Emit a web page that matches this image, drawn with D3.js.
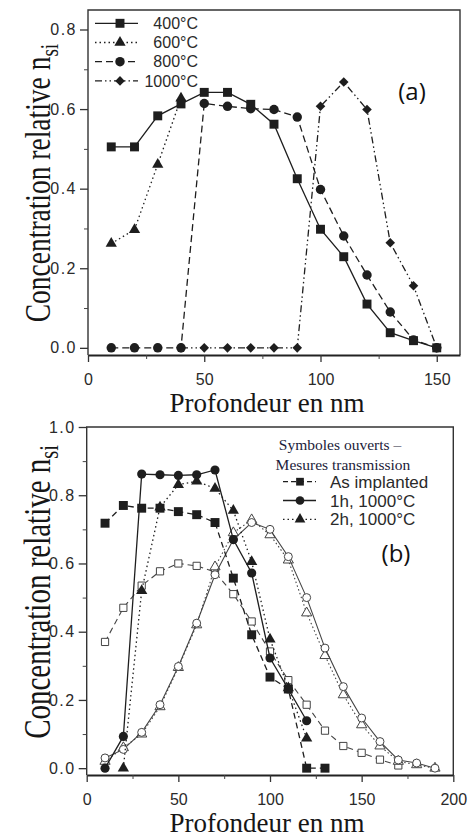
<!DOCTYPE html>
<html>
<head>
<meta charset="utf-8">
<script src="https://cdn.jsdelivr.net/npm/d3@7"></script>
<style>
  body { margin: 0; background: #fff; }
  svg { display: block; }
  .tick text { fill: #2a2a2a; }
</style>
</head>
<body>
<svg id="chart" width="471" height="839"></svg>
<script>
// panel (a) : depth in nm
const depthA = [10, 20, 30, 40, 50, 60, 70, 80, 90, 100, 110, 120, 130, 140, 150];
const n400 = [0.505, 0.505, 0.583, 0.613, 0.642, 0.642, 0.612, 0.562, 0.425, 0.298, 0.229, 0.11, 0.038, 0.018, 0.0];
const n600 = [0.262, 0.297, 0.461, 0.627, null, null, null, null, null, null, null, null, null, null, null];
const n800 = [0, 0, 0, 0, 0.614, 0.607, 0.601, 0.599, 0.58, 0.398, 0.281, 0.183, 0.09, 0.02, 0.0];
// 10-30 nm hidden under the 800°C points
const n1000 = [null, null, null, 0, 0, 0, 0, 0, 0, 0.607, 0.668, 0.599, 0.264, 0.156, 0.0];
const xTicksA = [0, 50, 100, 150];
const yTicksA = [0, 0.2, 0.4, 0.6, 0.8];

// panel (b)
const depthB = [10, 20, 30, 40, 50, 60, 70, 80, 90, 100, 110, 120, 130, 140, 150, 160, 170, 180, 190];
const implFilled = [0.718, 0.77, 0.762, 0.762, 0.752, 0.743, 0.72, 0.557, 0.391, 0.267, 0.232, 0.0, 0.0, null, null, null, null, null, null];
const h1Filled = [0.0, 0.093, 0.862, 0.86, 0.858, 0.86, 0.874, 0.67, 0.572, 0.323, 0.232, 0.139, null, null, null, null, null, null, null];
const h2Filled = [null, 0.0, 0.52, 0.765, 0.831, 0.841, 0.82, 0.755, 0.605, 0.378, 0.235, 0.088, null, null, null, null, null, null, null];
const implOpen = [0.37, 0.47, 0.535, 0.577, 0.6, 0.593, 0.575, 0.51, 0.43, 0.342, 0.258, 0.186, 0.11, 0.065, 0.045, 0.025, 0.008, null, null];
const h1Open = [0.03, 0.055, 0.105, 0.186, 0.298, 0.425, 0.567, 0.67, 0.72, 0.7, 0.62, 0.5, 0.352, 0.239, 0.147, 0.078, 0.024, 0.015, 0.0];
const h2Open = [0.02, 0.06, 0.1, 0.18, 0.295, 0.42, 0.59, 0.69, 0.728, 0.684, 0.61, 0.455, 0.33, 0.215, 0.127, 0.065, 0.02, 0.01, 0.0];
const xTicksB = [0, 50, 100, 150, 200];
const yTicksB = [0, 0.2, 0.4, 0.6, 0.8, 1.0];

const ink = '#1e1e1e';
const sans = '"Liberation Sans", Arial, sans-serif';
const serif = '"Liberation Serif", "Times New Roman", serif';

const svg = d3.select('#chart');

function drawSeries(g, x, y, depth, values, opt) {
  const pts = depth.map((d, i) => [d, values[i]]).filter(p => p[1] != null);
  const line = d3.line().x(p => x(p[0])).y(p => y(p[1]));
  g.append('path')
    .attr('d', line(pts))
    .attr('fill', 'none')
    .attr('stroke', opt.open ? '#444' : ink)
    .attr('stroke-width', opt.open ? 1.1 : 1.3)
    .attr('stroke-dasharray', opt.dash);
  g.selectAll(null).data(pts).join('path')
    .attr('transform', p => `translate(${x(p[0])},${y(p[1])})`)
    .attr('d', d3.symbol(opt.sym, opt.size)())
    .attr('fill', opt.open ? '#fff' : ink)
    .attr('stroke', opt.open ? '#444' : 'none')
    .attr('stroke-width', 1);
}

function legendRow(g, x0, x1, xm, y, opt) {
  g.append('line')
    .attr('x1', x0).attr('x2', x1).attr('y1', y).attr('y2', y)
    .attr('stroke', ink).attr('stroke-width', 1.3)
    .attr('stroke-dasharray', opt.dash);
  g.append('path')
    .attr('transform', `translate(${xm},${y})`)
    .attr('d', d3.symbol(opt.sym, opt.size)())
    .attr('fill', ink);
}

function drawAxes(x, y, box, xTicks, yTicks, yMinor, xMinor) {
  const g = svg.append('g');
  // frame
  g.append('path')
    .attr('d', `M${box.l},${box.b}V${box.t}H${box.r}V${box.b}`)
    .attr('fill', 'none').attr('stroke', '#333').attr('stroke-width', 1.4);

  const left = g.append('g').attr('transform', `translate(${box.l},0)`)
    .call(d3.axisLeft(y).tickValues(yTicks).tickSize(8).tickPadding(3).tickSizeOuter(0).tickFormat(d3.format('.1f')));
  left.select('.domain').remove();
  left.selectAll('text').style('font-family', sans).style('font-size', '16px').style('letter-spacing', '1.5px');
  left.selectAll('line').attr('stroke', '#333').attr('stroke-width', 1.3);

  const leftMinor = g.append('g').attr('transform', `translate(${box.l},0)`)
    .call(d3.axisLeft(y).tickValues(yMinor).tickSize(4).tickFormat(''));
  leftMinor.select('.domain').remove();
  leftMinor.selectAll('line').attr('stroke', '#444');

  const bottom = g.append('g').attr('transform', `translate(0,${box.b})`)
    .call(d3.axisBottom(x).tickValues(xTicks).tickSize(7).tickPadding(11.6).tickSizeOuter(0));
  bottom.select('.domain').attr('stroke', '#222').attr('stroke-width', 2);
  bottom.selectAll('text').style('font-family', sans).style('font-size', '16px');
  bottom.selectAll('line').attr('stroke', '#333').attr('stroke-width', 1.3);

  const bottomMinor = g.append('g').attr('transform', `translate(0,${box.b})`)
    .call(d3.axisBottom(x).tickValues(xMinor).tickSize(4).tickFormat(''));
  bottomMinor.select('.domain').remove();
  bottomMinor.selectAll('line').attr('stroke', '#444');
}

function yLabel(cx, cy, size) {
  const t = svg.append('text')
    .attr('transform', `translate(${cx},${cy}) rotate(-90) scale(1,1.3)`)
    .attr('text-anchor', 'middle')
    .style('font-family', serif)
    .style('font-size', size + 'px')
    .attr('fill', '#161616');
  t.append('tspan').text('Concentration relative n');
  t.append('tspan').attr('dy', '0.3em').style('font-size', (size * 0.7) + 'px').text('si');
}

function xLabel(cx, by) {
  svg.append('text')
    .attr('x', cx).attr('y', by)
    .attr('text-anchor', 'middle')
    .style('font-family', serif)
    .style('font-size', '27px')
    .attr('fill', '#161616')
    .text('Profondeur en nm');
}

const circle = d3.symbolCircle, square = d3.symbolSquare, triangle = d3.symbolTriangle;
// square turned 45°, as in the original plot
const diamond = {
  draw(ctx, size) {
    const r = Math.sqrt(size / 2);
    ctx.moveTo(0, -r); ctx.lineTo(r, 0); ctx.lineTo(0, r); ctx.lineTo(-r, 0); ctx.closePath();
  }
};

// ---------- panel (a)
const boxA = { l: 88, r: 460, t: 10, b: 355 };
const xA = d3.scaleLinear().domain([0, 160]).range([boxA.l, boxA.r]);
const yA = d3.scaleLinear().domain([-0.018, 0.849]).range([boxA.b, boxA.t]);
drawAxes(xA, yA, boxA, xTicksA, yTicksA, [0.1, 0.3, 0.5, 0.7], [25, 75, 125]);

const styleA = {
  '400°C': { dash: null, sym: square, size: 80 },
  '600°C': { dash: '1.5,3', sym: triangle, size: 55 },
  '800°C': { dash: '7,4', sym: circle, size: 70 },
  '1000°C': { dash: '7,3,1.5,3,1.5,3', sym: diamond, size: 46 }
};
const gA = svg.append('g');
drawSeries(gA, xA, yA, depthA, n1000, styleA['1000°C']);
drawSeries(gA, xA, yA, depthA, n800, styleA['800°C']);
drawSeries(gA, xA, yA, depthA, n600, styleA['600°C']);
drawSeries(gA, xA, yA, depthA, n400, styleA['400°C']);

const legA = svg.append('g');
['400°C', '600°C', '800°C', '1000°C'].forEach((name, i) => {
  const yy = 23.3 + i * 19.2;
  legendRow(legA, 95, 138, 120, yy, styleA[name]);
  legA.append('text').attr('x', 198).attr('y', yy).attr('dy', '0.36em')
    .attr('text-anchor', 'end').style('font-family', sans).style('font-size', '16px')
    .attr('fill', '#2a2a2a').text(name);
});
svg.append('text').attr('x', 412).attr('y', 100).attr('text-anchor', 'middle')
  .style('font-family', '"Open Sans", sans-serif').style('font-size', '24px').attr('fill', '#111').text('(a)');

yLabel(50, 183, 27.5);
xLabel(267, 412);

// ---------- panel (b)
const boxB = { l: 86.7, r: 453.3, t: 427, b: 775 };
const xB = d3.scaleLinear().domain([0, 200]).range([boxB.l, boxB.r]);
const yB = d3.scaleLinear().domain([-0.02, 1.0]).range([boxB.b, boxB.t]);
drawAxes(xB, yB, boxB, xTicksB, yTicksB, [0.1, 0.3, 0.5, 0.7, 0.9], [25, 75, 125, 175]);

const gB = svg.append('g');
drawSeries(gB, xB, yB, depthB, implOpen, { dash: '6,4', sym: square, size: 52, open: true });
drawSeries(gB, xB, yB, depthB, h2Open, { dash: '1.5,2.5', sym: triangle, size: 45, open: true });
drawSeries(gB, xB, yB, depthB, h1Open, { dash: null, sym: circle, size: 50, open: true });
drawSeries(gB, xB, yB, depthB, implFilled, { dash: '6,4', sym: square, size: 80 });
drawSeries(gB, xB, yB, depthB, h2Filled, { dash: '1.5,3', sym: triangle, size: 55 });
drawSeries(gB, xB, yB, depthB, h1Filled, { dash: null, sym: circle, size: 66 });

const legB = svg.append('g');
legB.append('text').attr('x', 340).attr('y', 450).attr('text-anchor', 'middle')
  .style('font-family', serif).style('font-size', '15.5px').attr('fill', '#1c1c3a').text('Symboles ouverts –');
legB.append('text').attr('x', 343).attr('y', 470).attr('text-anchor', 'middle')
  .style('font-family', serif).style('font-size', '15.5px').attr('fill', '#1c1c3a').text('Mesures transmission');
[
  ['As implanted', { dash: '5,3', sym: square, size: 60 }],
  ['1h, 1000°C', { dash: null, sym: circle, size: 60 }],
  ['2h, 1000°C', { dash: '1.5,3', sym: triangle, size: 50 }]
].forEach(([name, st], i) => {
  const yy = 481.7 + i * 18.8;
  legendRow(legB, 283, 316, 300, yy, st);
  legB.append('text').attr('x', 330).attr('y', yy).attr('dy', '0.36em')
    .style('font-family', sans).style('font-size', '17px').attr('fill', '#2a2a2a').text(name);
});
svg.append('text').attr('x', 396).attr('y', 562).attr('text-anchor', 'middle')
  .style('font-family', '"Open Sans", sans-serif').style('font-size', '24px').attr('fill', '#111').text('(b)');

yLabel(50, 592, 29);
xLabel(267, 832);
</script>
</body>
</html>
